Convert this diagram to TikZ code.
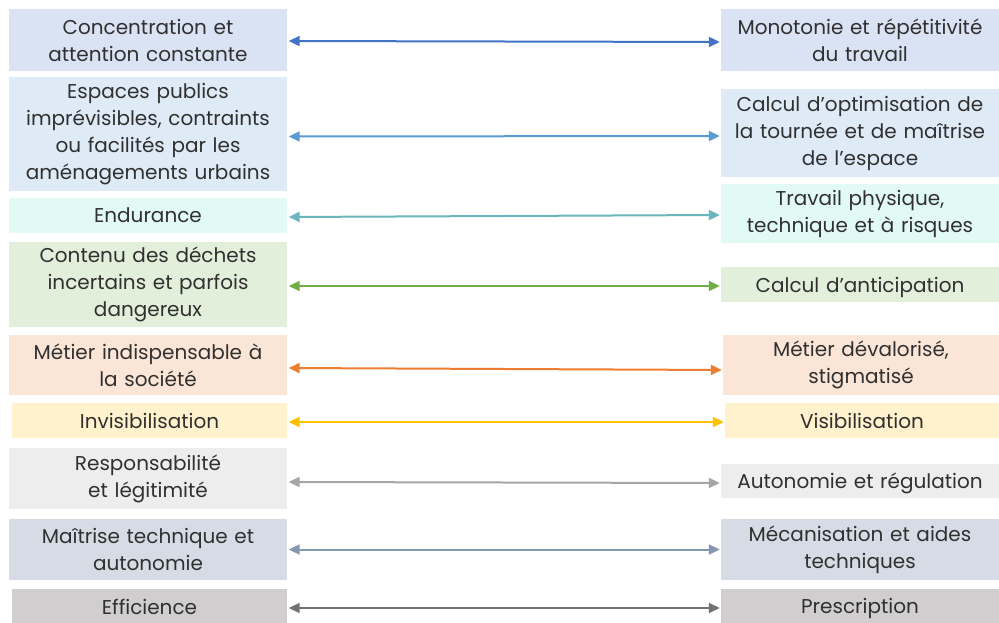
\documentclass[tikz,border=0pt]{standalone}
\usepackage{fontspec}
\setmainfont{Poppins}
\usetikzlibrary{arrows.meta}
\definecolor{txt}{HTML}{303030}
\definecolor{f1}{HTML}{DAE3F3}\definecolor{a1}{HTML}{4472C4}
\definecolor{f2}{HTML}{DEEBF7}\definecolor{a2}{HTML}{5B9BD5}
\definecolor{f3}{HTML}{E2FAF5}\definecolor{a3}{HTML}{6BB5BD}
\definecolor{f4}{HTML}{E2EFDA}\definecolor{a4}{HTML}{70AD47}
\definecolor{f5}{HTML}{FBE5D6}\definecolor{a5}{HTML}{ED7D31}
\definecolor{f6}{HTML}{FFF2CC}\definecolor{a6}{HTML}{FFC000}
\definecolor{f7}{HTML}{EDEDED}\definecolor{a7}{HTML}{A5A5A5}
\definecolor{f8}{HTML}{D6DCE5}\definecolor{a8}{HTML}{8497B0}
\definecolor{f9}{HTML}{D0CECE}\definecolor{a9}{HTML}{767171}
\tikzset{
  box/.style={inner sep=0pt, text width=#1, align=center, text=txt,
    font=\fontsize{20}{27}\selectfont},
  oneline/.style={text depth=0pt},
  conn/.style={line width=2pt, {Triangle[length=11pt,width=10pt]}-{Triangle[length=11pt,width=10pt]}, shorten <=1.5pt, shorten >=1pt}
}
\begin{document}
\begin{tikzpicture}[x=1pt,y=-1pt]
\useasboundingbox (0,0) rectangle (999,623);
\fill[white] (0,0) rectangle (999,623);
\node[box=274pt, minimum width=278pt, minimum height=62pt, fill=f1] (L1) at (148,40) {Concentration et\\attention constante};
\node[box=274pt, minimum width=278pt, minimum height=62pt, fill=f1] (R1) at (860,40) {Monotonie et répétitivité\\du travail};
\node[box=274pt, minimum width=278pt, minimum height=114pt, fill=f2] (L2) at (148,134) {Espaces publics\\imprévisibles, contraints\\ou facilités par les\\aménagements urbains};
\node[box=274pt, minimum width=278pt, minimum height=88pt, fill=f2] (R2) at (860,133) {Calcul d’optimisation de\\la tournée et de maîtrise\\de l’espace};
\node[box=274pt, oneline, minimum width=278pt, minimum height=35pt, fill=f3] (L3) at (148,215.5) {Endurance};
\node[box=274pt, minimum width=278pt, minimum height=59pt, fill=f3] (R3) at (860,213.5) {Travail physique,\\technique et à risques};
\node[box=274pt, minimum width=278pt, minimum height=85pt, fill=f4] (L4) at (148,284.5) {Contenu des déchets\\incertains et parfois\\dangereux};
\node[box=274pt, oneline, minimum width=278pt, minimum height=35pt, fill=f4] (R4) at (860,284.5) {Calcul d’anticipation};
\node[box=274pt, minimum width=278pt, minimum height=60pt, fill=f5] (L5) at (148,365) {Métier indispensable à\\la société};
\node[box=272pt, minimum width=276pt, minimum height=60pt, fill=f5] (R5) at (861,365) {Métier dévalorisé,\\stigmatisé};
\node[box=271pt, oneline, minimum width=275pt, minimum height=35pt, fill=f6] (L6) at (149.5,420.5) {Invisibilisation};
\node[box=270pt, oneline, minimum width=274pt, minimum height=35pt, fill=f6] (R6) at (862,420.5) {Visibilisation};
\node[box=274pt, minimum width=278pt, minimum height=61pt, fill=f7] (L7) at (148,478.5) {Responsabilité\\et légitimité};
\node[box=274pt, oneline, minimum width=278pt, minimum height=34pt, fill=f7] (R7) at (860,481) {Autonomie et régulation};
\node[box=274pt, minimum width=278pt, minimum height=61pt, fill=f8] (L8) at (148,549.5) {Maîtrise technique et\\autonomie};
\node[box=274pt, minimum width=278pt, minimum height=61pt, fill=f8] (R8) at (860,549.5) {Mécanisation et aides\\techniques};
\node[box=271pt, oneline, minimum width=275pt, minimum height=36pt, fill=f9] (L9) at (149.5,607) {Efficience};
\node[box=274pt, oneline, minimum width=278pt, minimum height=34pt, fill=f9] (R9) at (860,606) {Prescription};
\draw[conn, a1] ([yshift=-1pt]L1.east) -- ([yshift=-2pt]R1.west);
\draw[conn, a2] ([yshift=-2.5pt]L2.east) -- ([yshift=-3pt]R2.west);
\draw[conn, a3] ([yshift=-1.5pt]L3.east) -- ([yshift=-1.5pt]R3.west);
\draw[conn, a4] ([yshift=-1.5pt]L4.east) -- ([yshift=-1.5pt]R4.west);
\draw[conn, a5] ([yshift=-3pt]L5.east) -- ([yshift=-5pt]R5.west);
\draw[conn, a6] ([yshift=-1.5pt]L6.east) -- ([yshift=-1.5pt]R6.west);
\draw[conn, a7] ([yshift=-3.5pt]L7.east) -- ([yshift=-2pt]R7.west);
\draw[conn, a8] (L8.east) -- (R8.west);
\draw[conn, a9] ([yshift=-1pt]L9.east) -- ([yshift=-2pt]R9.west);
\end{tikzpicture}
\end{document}
